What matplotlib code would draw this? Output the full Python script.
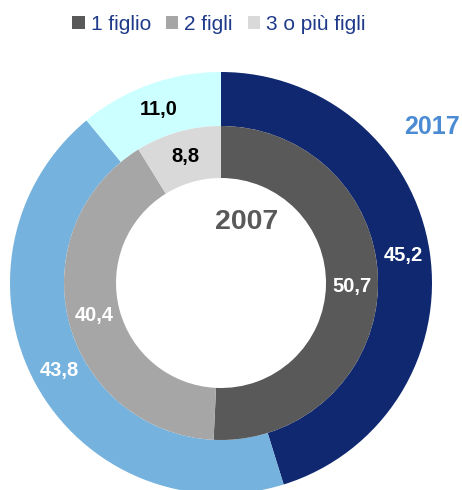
import numpy as np
import matplotlib
matplotlib.use("Agg")
import matplotlib.pyplot as plt
from matplotlib.patches import Patch

plt.rcParams['font.family'] = ['Liberation Sans', 'DejaVu Sans']

categories = ["1 figlio", "2 figli", "3 o più figli"]
values_2017 = [45.2, 43.8, 11.0]
values_2007 = [50.7, 40.4, 8.8]
colors_2017 = ["#0f2870", "#75b2de", "#ccffff"]
colors_2007 = ["#595959", "#a6a6a6", "#d9d9d9"]
legend_colors = colors_2007
label_colors_2017 = ["white", "white", "black"]
label_colors_2007 = ["white", "white", "black"]

W, H = 462, 490
fig = plt.figure(figsize=(W / 100, H / 100), dpi=100)
ax = fig.add_axes([0, 0, 1, 1])
ax.axis('off')

cx, cy = 221, 207
r_out, r_mid, r_in = 211, 157, 105

def ring(vals, cols, radius, width, lblcols):
    wedges, _ = ax.pie(vals, colors=cols, radius=radius, center=(cx, cy),
                       startangle=90, counterclock=False,
                       wedgeprops=dict(width=width, linewidth=0))
    for w, v, c in zip(wedges, vals, lblcols):
        ang = np.deg2rad((w.theta1 + w.theta2) / 2)
        rr = radius - width / 2
        ax.text(cx + rr * np.cos(ang), cy + rr * np.sin(ang),
                f"{v:.1f}".replace('.', ','), ha='center', va='center',
                fontsize=14.5, fontweight='bold', color=c)
    return wedges

ring(values_2017, colors_2017, r_out, r_out - r_mid, label_colors_2017)
ring(values_2007, colors_2007, r_mid, r_mid - r_in, label_colors_2007)

ax.set_xlim(0, W)
ax.set_ylim(0, H)
ax.set_aspect('equal')

ax.text(247, H - 222, "2007", ha='center', va='center', fontsize=20.5,
        fontweight='bold', color="#595959")
ax.text(432, H - 127, "2017", ha='center', va='center', fontsize=18,
        fontweight='bold', color="#4a8bd4")

handles = [Patch(facecolor=c, edgecolor='none', label=l) for c, l in zip(legend_colors, categories)]
leg = fig.legend(handles=handles, loc='center', bbox_to_anchor=(219 / W, 1 - 24 / H),
                 ncol=3, frameon=False, fontsize=15, handlelength=0.6, handleheight=0.6,
                 handletextpad=0.3, columnspacing=0.7)
for t in leg.get_texts():
    t.set_color("#1f3a8a")

fig.savefig("out.png", dpi=100)
